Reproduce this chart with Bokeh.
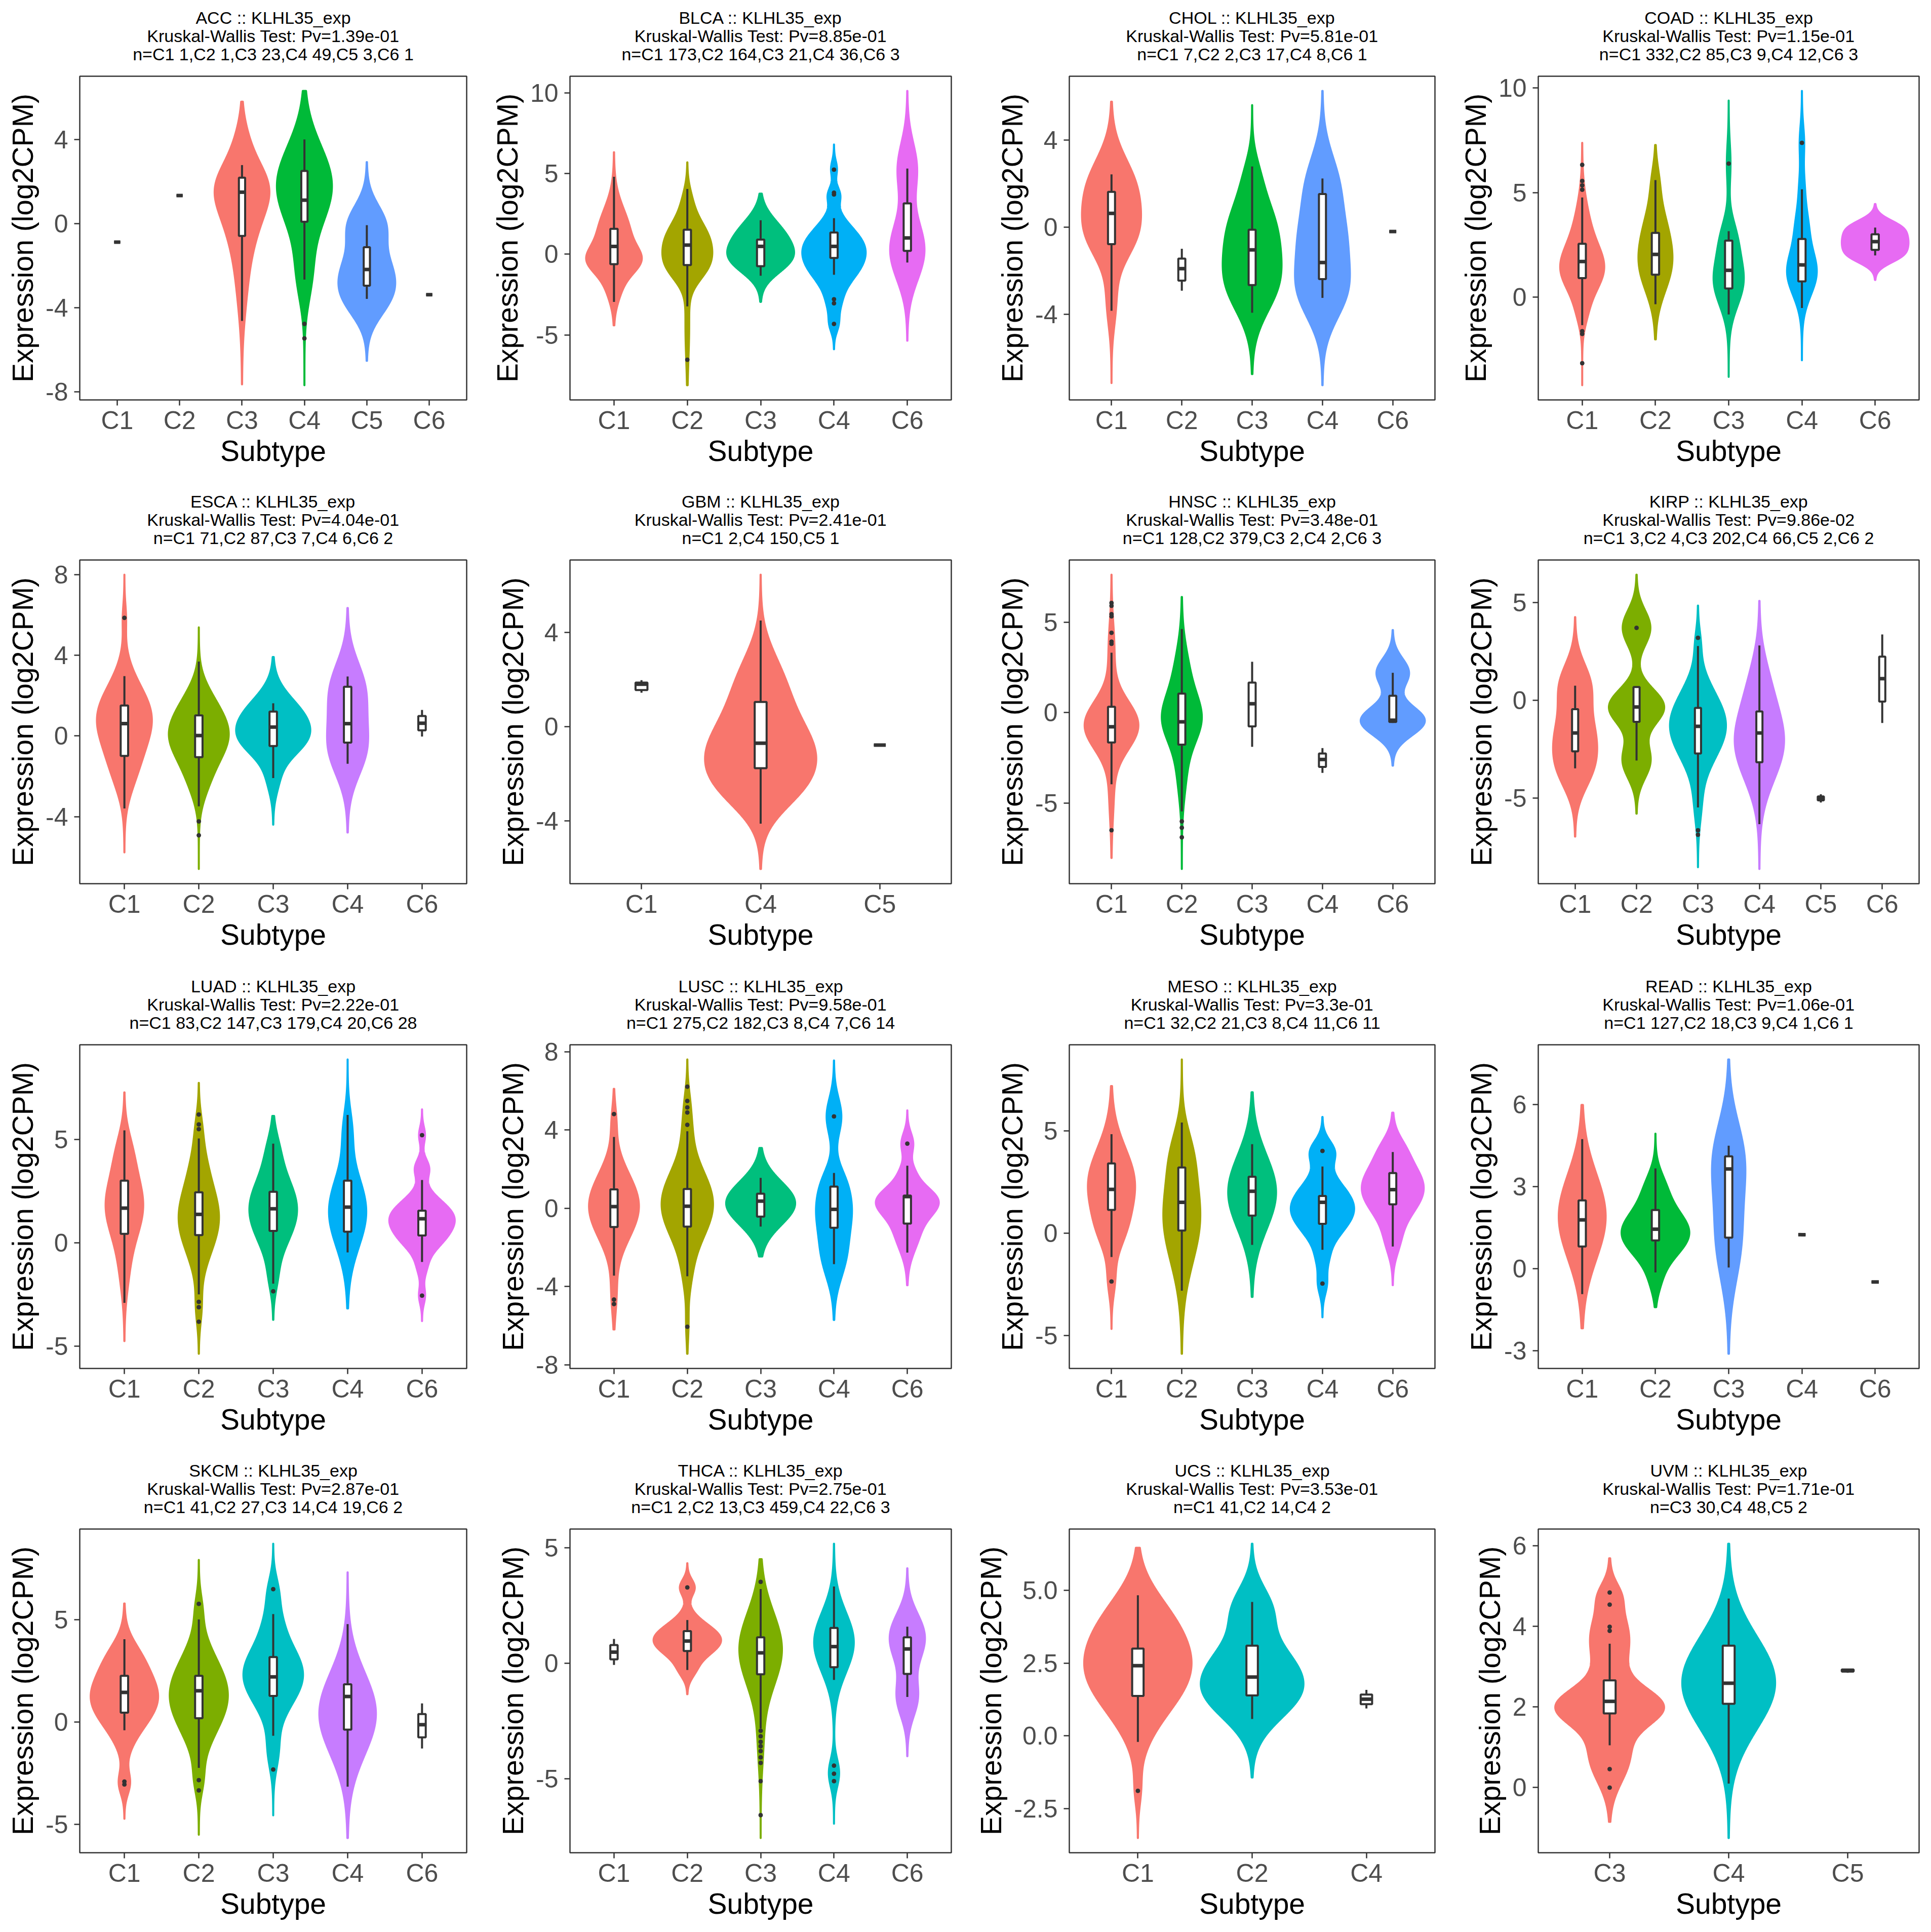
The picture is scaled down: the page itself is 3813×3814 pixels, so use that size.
import numpy as np
from bokeh.plotting import figure
from bokeh.layouts import gridplot
from bokeh.models import FixedTicker, Range1d, Title
from bokeh.embed import file_html
from bokeh.resources import INLINE

GENE = "KLHL35_exp"

cancers = ["ACC", "BLCA", "CHOL", "COAD", "ESCA", "GBM", "HNSC", "KIRP",
           "LUAD", "LUSC", "MESO", "READ", "SKCM", "THCA", "UCS", "UVM"]

p_values = ["1.39e-01", "8.85e-01", "5.81e-01", "1.15e-01", "4.04e-01", "2.41e-01",
            "3.48e-01", "9.86e-02", "2.22e-01", "9.58e-01", "3.3e-01", "1.06e-01",
            "2.87e-01", "2.75e-01", "3.53e-01", "1.71e-01"]

C5 = ["C1", "C2", "C3", "C4", "C6"]
subtypes = [
    ["C1", "C2", "C3", "C4", "C5", "C6"], C5, C5, C5, C5, ["C1", "C4", "C5"], C5,
    ["C1", "C2", "C3", "C4", "C5", "C6"], C5, C5, C5, C5, C5, C5,
    ["C1", "C2", "C4"], ["C3", "C4", "C5"],
]

counts = [
    [1, 1, 23, 49, 3, 1], [173, 164, 21, 36, 3], [7, 2, 17, 8, 1], [332, 85, 9, 12, 3],
    [71, 87, 7, 6, 2], [2, 150, 1], [128, 379, 2, 2, 3], [3, 4, 202, 66, 2, 2],
    [83, 147, 179, 20, 28], [275, 182, 8, 7, 14], [32, 21, 8, 11, 11], [127, 18, 9, 1, 1],
    [41, 27, 14, 19, 2], [2, 13, 459, 22, 3], [41, 14, 2], [30, 48, 2],
]

# per subtype: lower whisker, Q1, median, Q3, upper whisker
box_stats = [
    [[-0.88] * 5, [1.34] * 5, [-4.63, -0.58, 1.50, 2.19, 2.79], [-2.66, 0.09, 1.12, 2.51, 4.01],
     [-3.58, -2.95, -2.18, -1.12, -0.07], [-3.38] * 5],
    [[-2.95, -0.61, 0.49, 1.58, 4.81], [-3.23, -0.67, 0.57, 1.52, 4.05], [-1.33, -0.74, 0.49, 0.91, 2.11],
     [-1.27, -0.23, 0.49, 1.35, 2.24], [-0.51, 0.21, 1.01, 3.16, 5.32]],
    [[-3.83, -0.78, 0.63, 1.62, 2.42], [-2.91, -2.45, -1.90, -1.44, -0.99], [-3.92, -2.65, -1.04, -0.12, 2.78],
     [-3.24, -2.38, -1.62, 1.52, 2.23], [-0.20] * 5],
    [[-1.33, 0.92, 1.71, 2.56, 4.77], [-0.33, 1.08, 2.05, 3.08, 5.60], [-0.82, 0.42, 1.29, 2.71, 3.16],
     [-0.51, 0.76, 1.55, 2.79, 5.16], [2.00, 2.27, 2.66, 3.01, 3.33]],
    [[-3.60, -0.99, 0.61, 1.51, 2.97], [-3.49, -1.05, 0.02, 1.02, 3.69], [-2.09, -0.50, 0.44, 1.21, 1.62],
     [-1.38, -0.33, 0.61, 2.44, 2.95], [-0.03, 0.28, 0.63, 0.99, 1.29]],
    [[1.44, 1.55, 1.80, 1.87, 1.97], [-4.11, -1.76, -0.70, 1.05, 4.50], [-0.78] * 5],
    [[-3.96, -1.65, -0.78, 0.32, 3.31], [-5.46, -1.77, -0.51, 1.05, 4.62], [-1.89, -0.76, 0.49, 1.66, 2.81],
     [-3.33, -3.00, -2.59, -2.26, -1.96], [-0.57, -0.52, -0.42, 0.93, 2.20]],
    [[-3.49, -2.62, -1.68, -0.46, 0.74], [-3.09, -1.11, -0.35, 0.67, 0.67], [-5.49, -2.73, -1.34, -0.40, 2.77],
     [-6.35, -3.18, -1.68, -0.58, 2.80], [-5.24, -5.13, -5.02, -4.93, -4.82], [-1.17, -0.07, 1.10, 2.23, 3.36]],
    [[-2.91, 0.43, 1.67, 3.00, 5.43], [-2.50, 0.37, 1.37, 2.44, 5.04], [-1.98, 0.57, 1.64, 2.46, 4.79],
     [-0.47, 0.53, 1.72, 3.00, 6.18], [-0.93, 0.35, 1.16, 1.55, 3.03]],
    [[-3.45, -0.96, 0.08, 0.96, 3.64], [-3.48, -0.94, 0.10, 0.98, 3.93], [-0.94, -0.43, 0.36, 0.74, 1.55],
     [-2.86, -1.00, -0.06, 1.10, 1.80], [-2.27, -0.79, 0.59, 0.64, 2.17]],
    [[-1.16, 1.14, 2.14, 3.41, 4.84], [-2.81, 0.13, 1.51, 3.21, 5.41], [-0.57, 0.86, 2.05, 2.76, 4.35],
     [-0.81, 0.46, 1.51, 1.82, 3.26], [-0.65, 1.41, 2.13, 2.94, 3.97]],
    [[-0.93, 0.81, 1.78, 2.49, 4.73], [-0.14, 1.03, 1.44, 2.14, 3.66], [0.04, 1.13, 3.64, 4.10, 4.49],
     [1.24] * 5, [-0.49] * 5],
    [[-0.41, 0.45, 1.44, 2.25, 4.04], [-2.25, 0.18, 1.52, 2.25, 5.01], [-0.68, 1.27, 2.20, 3.17, 5.27],
     [-3.17, -0.38, 1.24, 1.84, 4.78], [-1.30, -0.76, -0.14, 0.38, 0.90]],
    [[-0.07, 0.17, 0.48, 0.79, 1.05], [-0.29, 0.53, 0.96, 1.39, 1.87], [-2.82, -0.48, 0.45, 1.12, 3.21],
     [-0.72, -0.17, 0.72, 1.53, 3.32], [-1.46, -0.46, 0.62, 1.12, 1.58]],
    [[-0.21, 1.37, 2.41, 3.00, 4.83], [0.58, 1.39, 2.02, 3.10, 4.60], [0.94, 1.09, 1.26, 1.42, 1.58]],
    [[1.05, 1.84, 2.14, 2.66, 3.57], [0.10, 2.08, 2.59, 3.52, 4.69], [2.85, 2.88, 2.90, 2.93, 2.95]],
]

outliers = [
    [[], [], [], [-4.77, -5.46], [], []],
    [[], [-6.54], [], [5.25, 3.82, 3.71, -2.79, -3.04, -4.32], []],
    [[], [], [], [], []],
    [[6.33, 5.56, 5.35, 5.14, -1.62, -1.75, -3.15], [], [6.39], [7.38], []],
    [[5.86], [-4.24, -4.93], [], [], []],
    [[], [], []],
    [[6.06, 5.90, 5.44, 5.32, 4.41, 3.92, 3.80, -6.50], [-6.01, -6.36, -6.89], [], [], []],
    [[], [3.70], [3.19, -6.66, -6.89], [], [], []],
    [[], [6.20, 5.72, 5.49, -2.86, -3.12, -3.82], [-2.35], [], [5.20, -2.56]],
    [[4.81, -4.67, -4.90], [6.21, 5.48, 5.15, 4.89, 4.26, -6.06], [], [4.69], [3.30]],
    [[-2.36], [], [], [4.02, -2.46], []],
    [[], [], [], [], []],
    [[-2.92, -3.06], [5.77, -2.85, -3.35], [6.49, -2.33], [], []],
    [[], [3.28], [3.52, -2.92, -3.16, -3.40, -3.59, -3.80, -4.07, -4.31, -5.10, -6.57],
     [-4.43, -4.78, -5.10], []],
    [[-1.89], [], []],
    [[4.84, 4.54, 3.99, 3.89, 0.46, 0.00], [], []],
]

# density extent of each violin (None: too few samples for a violin)
violin_span = [
    [None, None, [-7.65, 5.81], [-7.69, 6.32], [-6.53, 2.93], None],
    [[-4.41, 6.33], [-8.12, 5.70], [-2.95, 3.76], [-5.89, 6.81], [-5.36, 10.13]],
    [[-7.14, 5.75], None, [-6.73, 5.59], [-7.24, 6.24], None],
    [[-4.20, 7.38], [-2.01, 7.28], [-3.80, 9.40], [-3.01, 9.86], [0.83, 4.46]],
    [[-5.78, 8.00], [-6.60, 5.39], [-4.40, 3.92], [-4.79, 6.35], None],
    [None, [-6.03, 6.44], None],
    [[-8.03, 7.62], [-8.64, 6.39], None, None, [-2.93, 4.56]],
    [[-6.98, 4.25], [-5.81, 6.42], [-8.55, 4.84], [-8.64, 5.08], None, None],
    [[-4.76, 7.27], [-5.37, 7.73], [-3.73, 6.13], [-3.18, 8.86], [-3.79, 6.45]],
    [[-6.20, 6.10], [-7.44, 7.60], [-2.47, 3.08], [-5.71, 7.55], [-3.94, 5.00]],
    [[-4.68, 7.19], [-5.89, 8.49], [-3.11, 6.89], [-4.11, 5.68], [-2.54, 5.89]],
    [[-2.18, 5.98], [-1.41, 4.93], [-3.11, 7.64], None, None],
    [[-4.74, 5.79], [-5.52, 7.92], [-4.57, 8.71], [-5.68, 7.31], None],
    [None, [-1.34, 4.33], [-7.56, 4.50], [-6.94, 5.17], [-4.02, 4.11]],
    [[-3.51, 6.46], [-1.43, 6.60], None],
    [[-0.85, 5.69], [-1.25, 6.05], None],
]

# kernel modes of each density: (centre, spread, half-width in category units)
violin_modes = [
    [[], [], [(1.9, 1.2, 0.30), (0.3, 1.5, 0.20), (-2.5, 1.8, 0.08), (4.0, 1.0, 0.06)],
     [(1.8, 1.9, 0.44), (-2.5, 1.3, 0.10)],
     [(-3.58, 0.98, 0.29), (-2.18, 0.98, 0.29), (-0.07, 0.98, 0.29)], []],
    [[(-0.4, 0.8, 0.22), (1.2, 1.6, 0.22), (-2.0, 1.0, 0.08)],
     [(0.7, 1.4, 0.30), (-0.9, 0.9, 0.12), (3.5, 0.8, 0.03), (-4.5, 2.0, 0.025)],
     [(1.1, 1.1, 0.30), (-0.4, 0.9, 0.30)],
     [(0.4, 1.3, 0.40), (-1.2, 0.9, 0.12), (3.7, 0.5, 0.07), (-3.0, 0.9, 0.08), (5.3, 0.5, 0.04),
      (-4.4, 0.5, 0.04)],
     [(-0.51, 1.62, 0.13), (1.01, 1.62, 0.13), (5.32, 1.62, 0.13)]],
    [[(1.8, 1.4, 0.32), (-0.4, 1.2, 0.28), (-3.5, 1.1, 0.06)], [],
     [(0.0, 1.5, 0.30), (-2.6, 1.4, 0.32), (2.5, 0.9, 0.05)],
     [(-2.8, 1.4, 0.34), (-0.5, 1.2, 0.20), (1.8, 1.5, 0.23)], []],
    [[(1.3, 1.1, 0.27), (3.3, 1.3, 0.09), (-0.8, 0.7, 0.04)],
     [(1.5, 1.3, 0.20), (3.5, 1.2, 0.10), (5.6, 0.8, 0.035)],
     [(0.8, 1.2, 0.20), (2.9, 0.9, 0.08), (6.39, 0.99, 0.025)],
     [(1.2, 1.1, 0.20), (3.5, 0.9, 0.07), (5.3, 0.8, 0.03), (7.38, 0.83, 0.03)],
     [(2.00, 0.39, 0.31), (2.66, 0.39, 0.31), (3.33, 0.39, 0.31)]],
    [[(0.9, 1.6, 0.36), (-1.8, 1.2, 0.10), (5.86, 0.7, 0.02)],
     [(0.0, 1.3, 0.38), (-2.3, 1.0, 0.08), (1.8, 1.0, 0.08)],
     [(0.8, 1.1, 0.40), (-0.4, 0.8, 0.20), (-2.1, 0.8, 0.07)],
     [(-0.6, 1.4, 0.24), (2.3, 1.4, 0.22)], []],
    [[], [(-1.2, 1.5, 0.42), (1.8, 1.4, 0.17), (-2.8, 1.0, 0.10)], []],
    [[(-0.7, 1.35, 0.38), (3.5, 1.5, 0.04), (-4.5, 1.5, 0.03)],
     [(-0.4, 1.3, 0.24), (2.0, 1.6, 0.10), (-3.2, 1.5, 0.06)], [], [],
     [(-0.57, 0.79, 0.23), (-0.34, 0.79, 0.23), (2.20, 0.79, 0.23)]],
    [[(-3.49, 1.16, 0.24), (-1.68, 1.16, 0.24), (0.74, 1.16, 0.24)],
     [(-3.09, 0.91, 0.225), (-0.45, 0.91, 0.225), (-0.25, 0.91, 0.225), (3.70, 0.91, 0.225)],
     [(-1.3, 1.7, 0.455), (-5.5, 1.0, 0.04), (3.0, 0.7, 0.03)],
     [(-2.2, 1.9, 0.39), (1.0, 1.5, 0.10)], [], []],
    [[(1.8, 1.6, 0.25), (4.5, 1.0, 0.06), (-1.5, 1.2, 0.04)],
     [(1.2, 1.7, 0.27), (4.0, 1.0, 0.04), (5.6, 0.8, 0.03), (-3.2, 0.8, 0.03)],
     [(1.6, 1.6, 0.32), (4.6, 0.8, 0.04), (-1.8, 0.7, 0.03)],
     [(1.5, 1.7, 0.25), (5.5, 1.0, 0.05)],
     [(1.2, 0.85, 0.42), (0.0, 0.6, 0.12), (3.6, 0.45, 0.09), (5.2, 0.41, 0.04), (-2.56, 0.41, 0.04),
      (-1.2, 0.5, 0.05)]],
    [[(0.1, 1.65, 0.34), (4.5, 0.8, 0.025), (-4.5, 1.0, 0.03)],
     [(0.2, 1.75, 0.35), (4.2, 1.0, 0.04), (5.5, 0.8, 0.02), (-3.5, 1.0, 0.03), (-6.0, 0.8, 0.015)],
     [(0.25, 1.1, 0.47)],
     [(0.0, 1.3, 0.22), (-2.5, 1.2, 0.14), (4.69, 0.95, 0.10), (1.5, 0.8, 0.05)],
     [(0.4, 0.75, 0.38), (-1.2, 1.0, 0.16), (3.3, 0.56, 0.08), (1.9, 0.5, 0.06)]],
    [[(2.4, 1.75, 0.33), (0.0, 1.0, 0.08), (-2.36, 0.77, 0.04)],
     [(0.8, 2.2, 0.26), (4.0, 1.2, 0.08)],
     [(2.0, 1.8, 0.34)],
     [(1.2, 1.2, 0.45), (4.0, 0.55, 0.15), (-2.46, 0.55, 0.06), (-1.3, 0.5, 0.04)],
     [(2.2, 1.3, 0.44), (4.2, 0.6, 0.06), (-0.5, 0.7, 0.06)]],
    [[(1.9, 1.55, 0.32)],
     [(1.3, 0.85, 0.46), (3.0, 0.6, 0.10), (-0.5, 0.5, 0.04)],
     [(4.0, 1.4, 0.20), (1.0, 1.5, 0.16)], [], []],
    [[(1.2, 1.45, 0.45), (3.3, 0.8, 0.08), (-3.0, 0.56, 0.07)],
     [(1.3, 1.8, 0.39), (-2.9, 0.72, 0.04), (5.6, 0.72, 0.03)],
     [(2.3, 1.5, 0.40), (6.4, 0.75, 0.06), (-1.5, 0.9, 0.06), (5.0, 0.8, 0.05)],
     [(0.4, 2.0, 0.38)], []],
    [[], [(1.0, 0.68, 0.46), (3.28, 0.35, 0.10), (-0.35, 0.35, 0.06)],
     [(0.6, 1.6, 0.29), (-3.5, 1.2, 0.03)],
     [(0.9, 1.3, 0.27), (-4.75, 0.61, 0.07)],
     [(-1.46, 0.85, 0.14), (0.62, 0.85, 0.14), (1.58, 0.85, 0.14)]],
    [[(2.3, 1.5, 0.45), (4.2, 1.0, 0.10), (-1.89, 0.54, 0.02)],
     [(1.6, 1.0, 0.42), (4.3, 0.8, 0.17), (2.8, 0.7, 0.10)], []],
    [[(2.0, 0.45, 0.36), (3.8, 0.7, 0.14), (0.7, 0.6, 0.14), (2.2, 1.0, 0.08), (4.8, 0.3, 0.05)],
     [(2.6, 1.15, 0.39)], []],
]

y_ticks = [
    [-8, -4, 0, 4], [-5, 0, 5, 10], [-4, 0, 4], [0, 5, 10], [-4, 0, 4, 8], [-4, 0, 4],
    [-5, 0, 5], [-5, 0, 5], [-5, 0, 5], [-8, -4, 0, 4, 8], [-5, 0, 5], [-3, 0, 3, 6],
    [-5, 0, 5], [-5, 0, 5], [-2.5, 0.0, 2.5, 5.0], [0, 2, 4, 6],
]

# ggplot2 default hue palettes, keyed by number of filled groups
HUE = {
    1: ["#F8766D"],
    2: ["#F8766D", "#00BFC4"],
    3: ["#F8766D", "#00BA38", "#619CFF"],
    4: ["#F8766D", "#7CAE00", "#00BFC4", "#C77CFF"],
    5: ["#F8766D", "#A3A500", "#00BF7D", "#00B0F6", "#E76BF3"],
    6: ["#F8766D", "#B79F00", "#00BA38", "#00BFC4", "#619CFF", "#F564E3"],
}

FONT = "Liberation Sans"
TICK_PX = 50
TITLE_PX = 34
INK = "#333333"
COL_W = [949, 956, 956, 952]
ROW_H = [949, 956, 956, 953]
TOP = [150, 156, 157, 157]
RIGHT = [28, 27, 28, 24]
LEFT_BASE = [112.5, 120, 120, 120]
FRAME_H = 639
BOX_W = 0.1


def tick_text(t, ticks):
    if any(float(v) != int(v) for v in ticks):
        return "%.1f" % t
    return "%d" % t


def text_width(s, px):
    return sum({"-": 0.333, ".": 0.278}.get(ch, 0.556) for ch in s) * px


def half_width(y, modes):
    w = np.zeros_like(y)
    for m, s, a in modes:
        w += a * np.exp(-0.5 * ((y - m) / s) ** 2)
    return w


def title_line(text, standoff):
    return Title(text=text, align="center", text_font=FONT,
                 text_font_size="%dpx" % TITLE_PX, text_font_style="normal",
                 text_color="black", standoff=standoff)


rows = []
for i, cancer in enumerate(cancers):
    r, c = divmod(i, 4)
    subs = subtypes[i]
    ns = counts[i]
    boxes = box_stats[i]
    outs = outliers[i]
    spans = violin_span[i]
    modes = violin_modes[i]
    ticks = y_ticks[i]
    k = len(subs)

    vals = []
    for j in range(k):
        vals += boxes[j] + outs[j]
        if spans[j]:
            vals += spans[j]
    vmin, vmax = min(vals), max(vals)
    pad = 0.05 * (vmax - vmin)

    labels = {t: tick_text(t, ticks) for t in ticks}
    lab_w = max(text_width(s, TICK_PX) for s in labels.values())
    left = int(round(LEFT_BASE[c] + lab_w))
    bottom = ROW_H[r] - TOP[r] - FRAME_H

    p = figure(width=COL_W[c], height=ROW_H[r], output_backend="svg", toolbar_location=None,
               title=None,
               x_range=Range1d(0.4, k + 0.6), y_range=Range1d(vmin - pad, vmax + pad),
               min_border_left=left, min_border_right=RIGHT[c],
               min_border_top=TOP[r], min_border_bottom=bottom)
    p.background_fill_color = "white"
    p.border_fill_color = "white"
    p.outline_line_color = INK
    p.outline_line_width = 2.5
    p.xgrid.visible = False
    p.ygrid.visible = False

    # blank gap above the frame, then three centred title lines stacked upward
    lines = ["%s :: %s" % (cancer, GENE),
             "Kruskal-Wallis Test: Pv=%s" % p_values[i],
             "n=" + ",".join("%s %d" % (s, n) for s, n in zip(subs, ns))]
    p.add_layout(title_line(" ", -13), "above")
    for line in reversed(lines):
        p.add_layout(title_line(line, -4), "above")

    p.xaxis.ticker = FixedTicker(ticks=list(range(1, k + 1)))
    p.xaxis.major_label_overrides = {j + 1: s for j, s in enumerate(subs)}
    p.yaxis.ticker = FixedTicker(ticks=ticks)
    p.yaxis.major_label_overrides = labels
    p.xaxis.axis_label = "Subtype"
    p.yaxis.axis_label = "Expression (log2CPM)"
    for ax in (p.xaxis[0], p.yaxis[0]):
        ax.axis_line_color = None
        ax.major_tick_line_color = INK
        ax.major_tick_line_width = 2.5
        ax.major_tick_out = 11
        ax.major_tick_in = 0
        ax.minor_tick_line_color = None
        ax.major_label_text_font = FONT
        ax.major_label_text_font_size = "%dpx" % TICK_PX
        ax.major_label_text_color = "#4D4D4D"
        ax.axis_label_text_font = FONT
        ax.axis_label_text_font_size = "57px"
        ax.axis_label_text_font_style = "normal"
        ax.axis_label_text_color = "black"
    p.xaxis.major_label_standoff = 1
    p.xaxis.axis_label_standoff = -3
    p.yaxis.major_label_standoff = 12
    p.yaxis.axis_label_standoff = 10

    n_fill = sum(1 for s in spans if s)
    pal = HUE[n_fill]
    f = 0
    for j in range(k):
        if not spans[j]:
            continue
        col = pal[f]
        f += 1
        ys = np.linspace(spans[j][0], spans[j][1], 400)
        w = half_width(ys, modes[j])
        x0 = j + 1
        xs = np.concatenate([x0 + w, (x0 - w)[::-1]])
        yy = np.concatenate([ys, ys[::-1]])
        p.patch(xs, yy, fill_color=col, line_color=col, line_width=4, line_join="round")

    xc = np.arange(1, k + 1, dtype=float)
    wlo = [b[0] for b in boxes]
    q1 = [b[1] for b in boxes]
    med = [b[2] for b in boxes]
    q3 = [b[3] for b in boxes]
    whi = [b[4] for b in boxes]
    p.segment(x0=xc, y0=q3, x1=xc, y1=whi, line_color=INK, line_width=4)
    p.segment(x0=xc, y0=q1, x1=xc, y1=wlo, line_color=INK, line_width=4)
    p.quad(left=xc - BOX_W / 2, right=xc + BOX_W / 2, bottom=q1, top=q3,
           fill_color="white", line_color=INK, line_width=4)
    p.segment(x0=xc - BOX_W / 2, y0=med, x1=xc + BOX_W / 2, y1=med, line_color=INK, line_width=7)

    ox, oy = [], []
    for j in range(k):
        for v in outs[j]:
            ox.append(j + 1)
            oy.append(v)
    if ox:
        p.scatter(ox, oy, size=8, color=INK)

    if c == 0:
        rows.append([])
    rows[-1].append(p)

grid = gridplot(rows, toolbar_location=None)
open("out.html", "w").write(file_html(grid, INLINE))
